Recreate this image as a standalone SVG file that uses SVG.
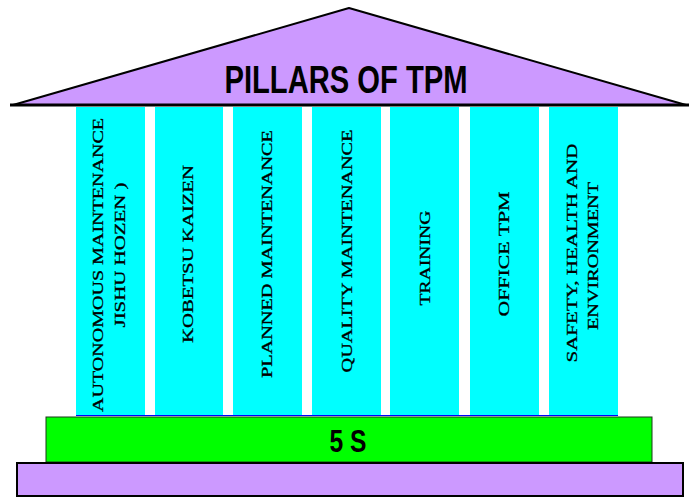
<svg xmlns="http://www.w3.org/2000/svg" width="690" height="497" viewBox="0 0 690 497">
<style>
.pillar{fill:#00ffff}
.pt{font-family:"Liberation Serif","Times New Roman",serif;font-size:15px;fill:#000;stroke:#000;stroke-width:0.3;text-anchor:middle}
.sans{font-family:"Liberation Sans",Arial,sans-serif;font-weight:bold;fill:#000;text-anchor:middle}
</style>
<rect width="690" height="497" fill="#fff"/>
<g id="roof">
<polygon points="13,105 349,8 686,105" fill="#cc99ff" stroke="#000" stroke-width="2" stroke-linejoin="round"/>
<line x1="10" y1="105" x2="689" y2="105" stroke="#000" stroke-width="3"/>
<text class="sans" x="346" y="93" font-size="38" textLength="243" lengthAdjust="spacingAndGlyphs">PILLARS OF TPM</text>
</g>
<g id="pillar1">
<rect class="pillar" x="76" y="107" width="69" height="308"/>
<text class="pt" transform="translate(103,265) rotate(-90)" textLength="294" lengthAdjust="spacingAndGlyphs">AUTONOMOUS MAINTENANCE</text>
<text class="pt" transform="translate(125,255) rotate(-90)" textLength="145" lengthAdjust="spacingAndGlyphs">JISHU HOZEN )</text>
</g>
<g id="pillar2">
<rect class="pillar" x="155" y="107" width="68" height="308"/>
<text class="pt" transform="translate(193,254) rotate(-90)" textLength="178" lengthAdjust="spacingAndGlyphs">KOBETSU KAIZEN</text>
</g>
<g id="pillar3">
<rect class="pillar" x="233" y="107" width="69" height="308"/>
<text class="pt" transform="translate(272,254) rotate(-90)" textLength="248" lengthAdjust="spacingAndGlyphs">PLANNED MAINTENANCE</text>
</g>
<g id="pillar4">
<rect class="pillar" x="312" y="107" width="69" height="308"/>
<text class="pt" transform="translate(352,251) rotate(-90)" textLength="243" lengthAdjust="spacingAndGlyphs">QUALITY MAINTENANCE</text>
</g>
<g id="pillar5">
<rect class="pillar" x="390" y="107" width="69" height="308"/>
<text class="pt" transform="translate(430,258) rotate(-90)" textLength="95" lengthAdjust="spacingAndGlyphs">TRAINING</text>
</g>
<g id="pillar6">
<rect class="pillar" x="470" y="107" width="69" height="308"/>
<text class="pt" transform="translate(509,254) rotate(-90)" textLength="125" lengthAdjust="spacingAndGlyphs">OFFICE TPM</text>
</g>
<g id="pillar7">
<rect class="pillar" x="549" y="107" width="69" height="308"/>
<text class="pt" transform="translate(577,253) rotate(-90)" textLength="219" lengthAdjust="spacingAndGlyphs">SAFETY, HEALTH AND</text>
<text class="pt" transform="translate(598,256) rotate(-90)" textLength="148" lengthAdjust="spacingAndGlyphs">ENVIRONMENT</text>
</g>
<line x1="76" y1="415.5" x2="618" y2="415.5" stroke="#0000ff" stroke-width="1"/>
<g id="foundation">
<rect x="46" y="417" width="606" height="45" fill="#00ff00" stroke="#1a3a1a" stroke-width="1"/>
<text class="sans" x="348" y="452" font-size="31" textLength="37" lengthAdjust="spacingAndGlyphs">5 S</text>
</g>
<g id="base">
<rect x="17" y="463" width="666" height="33" fill="#cc99ff" stroke="#000" stroke-width="2"/>
</g>
</svg>
